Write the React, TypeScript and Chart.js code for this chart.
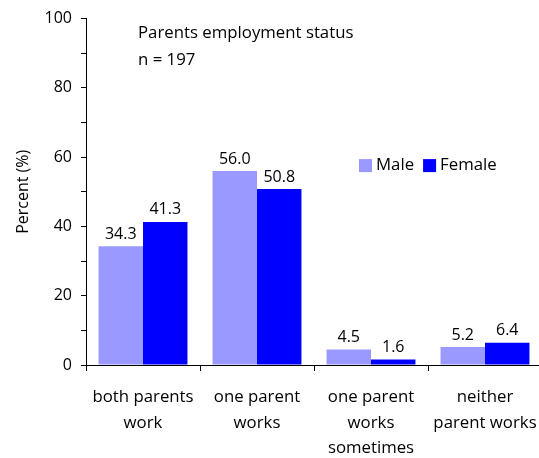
import React, { useEffect, useRef } from "react";
import { Chart, registerables } from "chart.js";

Chart.register(...registerables);

const categories: string[][] = [
  ["both parents", "work"],
  ["one parent", "works"],
  ["one parent", "works", "sometimes"],
  ["neither", "parent works"],
];
const maleValues = [34.3, 56.0, 4.5, 5.2];
const femaleValues = [41.3, 50.8, 1.6, 6.4];
const seriesNames = ["Male", "Female"];
const seriesColors = ["#9999FF", "#0000FF"];
const titleLines = ["Parents employment status", "n = 197"];

const FONT = "'Open Sans', Lato, sans-serif";
const FS = 16;
const FS_TEXT = 16.8;

const overlayPlugin = {
  id: "overlay",
  afterDatasetsDraw(chart: any) {
    const ctx = chart.ctx;
    const area = chart.chartArea;
    ctx.save();
    ctx.fillStyle = "#000";
    ctx.font = `${FS}px ${FONT}`;
    // data labels
    chart.data.datasets.forEach((ds: any, di: number) => {
      const meta = chart.getDatasetMeta(di);
      meta.data.forEach((bar: any, i: number) => {
        ctx.textAlign = "center";
        ctx.textBaseline = "bottom";
        ctx.fillText(Number(ds.data[i]).toFixed(1), bar.x, bar.y - 4);
      });
    });
    // title text inside plot
    ctx.font = `${FS_TEXT}px ${FONT}`;
    ctx.textAlign = "left";
    ctx.textBaseline = "middle";
    ctx.fillText(titleLines[0], area.left + 52, area.top + 15);
    ctx.fillText(titleLines[1], area.left + 52, area.top + 42);
    // legend
    const lx = area.left + 273;
    const ly = area.top + 147;
    let x = lx;
    seriesNames.forEach((name, i) => {
      ctx.fillStyle = seriesColors[i];
      ctx.fillRect(x, ly - 6.5, 13, 13);
      ctx.fillStyle = "#000";
      ctx.fillText(name, x + 17, ly);
      x += 17 + ctx.measureText(name).width + 9;
    });
    ctx.restore();
  },
};

export default function App() {
  const ref = useRef<HTMLCanvasElement>(null);
  useEffect(() => {
    if (!ref.current) return;
    const chart = new Chart(ref.current, {
      type: "bar",
      data: {
        labels: categories,
        datasets: [
          {
            label: seriesNames[0],
            data: maleValues,
            backgroundColor: seriesColors[0],
            categoryPercentage: 0.78,
            barPercentage: 1,
          },
          {
            label: seriesNames[1],
            data: femaleValues,
            backgroundColor: seriesColors[1],
            categoryPercentage: 0.78,
            barPercentage: 1,
          },
        ],
      },
      options: {
        responsive: false,
        animation: false,
        layout: { padding: { left: 0, top: 15, right: 18, bottom: 0 } },
        plugins: {
          legend: { display: false },
          tooltip: { enabled: false },
          title: { display: false },
        },
        scales: {
          x: {
            grid: {
              display: true,
              drawOnChartArea: false,
              drawTicks: true,
              tickLength: 6,
              color: "#000",
              offset: true,
            },
            border: { display: true, color: "#000", width: 1 },
            ticks: {
              color: "#000",
              font: { family: FONT, size: FS_TEXT, lineHeight: 1.5 },
              padding: 14,
              maxRotation: 0,
              autoSkip: false,
            },
            afterFit: (s: any) => {
              s.height = 93;
            },
          },
          y: {
            min: 0,
            max: 100,
            grid: {
              display: true,
              drawOnChartArea: false,
              tickLength: 5,
              color: "#000",
            },
            border: { display: true, color: "#000", width: 1 },
            ticks: {
              stepSize: 10,
              color: "#000",
              font: { family: FONT, size: FS },
              padding: 9,
              callback: (v: any) => (Number(v) % 20 === 0 ? String(v) : ""),
            },
            title: {
              display: true,
              text: "Percent (%)",
              color: "#000",
              font: { family: FONT, size: FS },
              padding: { top: 14, bottom: 0 },
            },
            afterFit: (s: any) => {
              s.width = 86;
            },
          },
        },
      },
      plugins: [overlayPlugin],
    });
    return () => chart.destroy();
  }, []);
  return (
    <div
      style={{
        position: "fixed",
        left: 0,
        top: 0,
        width: 539,
        height: 458,
        overflow: "hidden",
        background: "#fff",
      }}
    >
      <canvas ref={ref} width={560} height={458} style={{ display: "block" }} />
    </div>
  );
}
